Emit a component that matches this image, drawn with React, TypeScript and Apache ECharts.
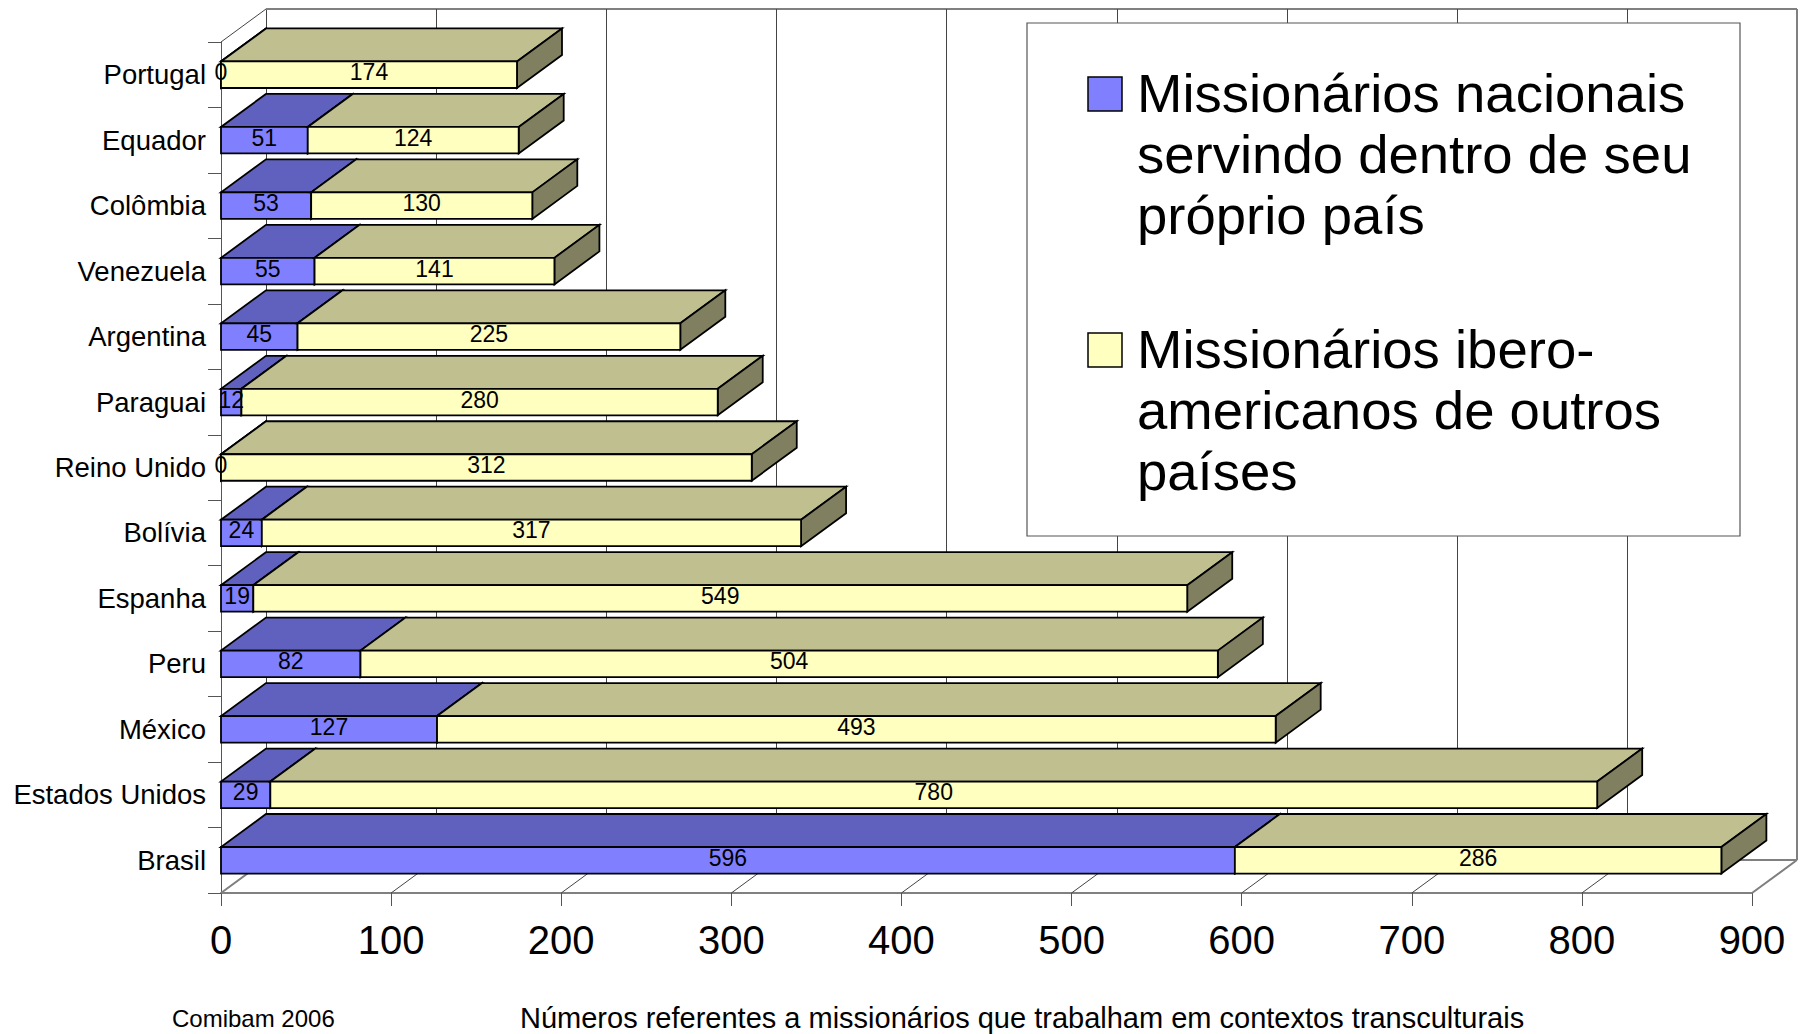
import React, { useEffect, useRef } from "react";
import * as echarts from "echarts";

const categories = ["Portugal", "Equador", "Colômbia", "Venezuela", "Argentina", "Paraguai", "Reino Unido", "Bolívia", "Espanha", "Peru", "México", "Estados Unidos", "Brasil"];
const nationals = [0, 51, 53, 55, 45, 12, 0, 24, 19, 82, 127, 29, 596];
const iberoAmericans = [174, 124, 130, 141, 225, 280, 312, 317, 549, 504, 493, 780, 286];
const xTicks = [0, 100, 200, 300, 400, 500, 600, 700, 800, 900];
const nationalsName = "Missionários nacionais\nservindo dentro de seu\npróprio país";
const iberoName = "Missionários ibero-\namericanos de outros\npaíses";
const sourceText = "Comibam 2006";
const noteText = "Números referentes a missionários que trabalham em contextos transculturais";

const FONT = "'Liberation Sans', Arial, sans-serif";
const DX = 45;
const DY = 33;
const GRID_LEFT = 221;
const GRID_RIGHT = 50;
const GRID_TOP = 42;
const GRID_BOTTOM = 141;

const face = (points: number[][], fill: string) => ({
  type: "polygon",
  shape: { points },
  style: { fill, stroke: "#000", lineWidth: 1.8, lineJoin: "miter" },
});

const barRenderer = (front: string, top: string, side: string) => (_: any, api: any) => {
  const idx = api.value(0);
  const from = api.value(1);
  const to = api.value(2);
  const h = api.size([0, 1])[1] * 0.405;
  const c = api.coord([from, idx]);
  const x0 = c[0];
  const x1 = api.coord([to, idx])[0];
  const y0 = c[1] - h / 2;
  const y1 = c[1] + h / 2;
  return {
    type: "group",
    children: [
      face([[x0, y0], [x1, y0], [x1 + DX, y0 - DY], [x0 + DX, y0 - DY]], top),
      face([[x1, y0], [x1 + DX, y0 - DY], [x1 + DX, y1 - DY], [x1, y1]], side),
      face([[x0, y0], [x1, y0], [x1, y1], [x0, y1]], front),
      {
        type: "text",
        z2: 20,
        style: {
          text: String(to - from),
          x: (x0 + x1) / 2,
          y: c[1] - 2.5,
          align: "center",
          verticalAlign: "middle",
          fontFamily: FONT,
          fontSize: 23,
          fill: "#000",
        },
      },
    ],
  };
};

const wallRenderer = (params: any, api: any) => {
  const v = api.value(0);
  const cs = params.coordSys;
  const x = api.coord([v, 0])[0];
  const floor = cs.y + cs.height;
  const backX = Math.round(x + DX) + 0.5;
  const line = (x1: number, y1: number, x2: number, y2: number, stroke = "#444", lineWidth = 1) => ({
    type: "line",
    shape: { x1, y1, x2, y2 },
    style: { stroke, lineWidth },
  });
  const children: any[] = [
    line(backX, cs.y - DY, backX, floor - DY),
    line(x, floor, x + DX, floor - DY),
  ];
  if (v === xTicks[0]) {
    children.push(
      line(x, cs.y, x + DX, cs.y - DY),
      line(x + DX, cs.y - DY, x + DX + cs.width, cs.y - DY, "#808080", 2),
      line(x + DX, floor - DY, x + DX + cs.width, floor - DY, "#808080", 2),
      line(x, floor, x + DX, floor - DY, "#808080", 2)
    );
  }
  if (v === xTicks[xTicks.length - 1]) {
    children.push(
      line(x + DX, cs.y - DY, x + DX, floor - DY, "#808080", 2),
      line(x, floor, x + DX, floor - DY, "#808080", 2)
    );
  }
  return { type: "group", children };
};

export default function App() {
  const ref = useRef<HTMLDivElement>(null);
  useEffect(() => {
    document.body.style.margin = "0";
    const chart = echarts.init(ref.current!, undefined, { renderer: "svg" });
    const bigText = (text: string, x: number, y: number) => ({
      type: "text",
      x,
      y,
      z: 50,
      style: { text, fontFamily: FONT, fontSize: 54.5, lineHeight: 61, fill: "#000", align: "left", verticalAlign: "top" },
    });
    const swatch = (y: number, fill: string) => ({
      type: "rect",
      z: 50,
      shape: { x: 1088, y, width: 34, height: 34 },
      style: { fill, stroke: "#000", lineWidth: 1.5 },
    });
    chart.setOption({
      animation: false,
      backgroundColor: "#fff",
      grid: { left: GRID_LEFT, right: GRID_RIGHT, top: GRID_TOP, bottom: GRID_BOTTOM, containLabel: false },
      xAxis: {
        type: "value",
        position: "bottom",
        min: 0,
        max: 900,
        interval: 100,
        splitLine: { show: false },
        axisLine: { show: true, lineStyle: { color: "#808080", width: 2 } },
        axisTick: { show: true, length: 13, lineStyle: { color: "#555", width: 1 } },
        axisLabel: { margin: 27, fontFamily: FONT, fontSize: 40, color: "#000", showMinLabel: true, showMaxLabel: true },
      },
      yAxis: {
        type: "category",
        inverse: true,
        data: categories,
        splitLine: { show: false },
        axisLine: { show: true, lineStyle: { color: "#555", width: 1 } },
        axisTick: { show: true, length: 13, lineStyle: { color: "#555", width: 1 } },
        axisLabel: { margin: 15, fontFamily: FONT, fontSize: 27.5, color: "#000", interval: 0, padding: [4, 0, 0, 0] },
      },
      series: [
        {
          type: "custom",
          name: "grade",
          z: 1,
          silent: true,
          clip: false,
          renderItem: wallRenderer,
          data: xTicks.map((v) => [v]),
          encode: { x: 0 },
        },
        {
          type: "custom",
          name: nationalsName,
          z: 3,
          silent: true,
          clip: false,
          renderItem: barRenderer("#8080FF", "#6060BF", "#404080"),
          data: categories.map((_, i) => [i, 0, nationals[i]]),
          encode: { y: 0, x: [1, 2] },
        },
        {
          type: "custom",
          name: iberoName,
          z: 3,
          silent: true,
          clip: false,
          renderItem: barRenderer("#FFFFC0", "#BFBF90", "#808060"),
          data: categories.map((_, i) => [i, nationals[i], nationals[i] + iberoAmericans[i]]),
          encode: { y: 0, x: [1, 2] },
        },
      ],
      graphic: [
        {
          type: "rect",
          z: 49,
          shape: { x: 1027, y: 23, width: 713, height: 513 },
          style: { fill: "#fff", stroke: "#555", lineWidth: 1.2 },
        },
        swatch(77, "#8080FF"),
        swatch(333, "#FFFFC0"),
        bigText(nationalsName, 1137, 63),
        bigText(iberoName, 1137, 319),
        {
          type: "text",
          x: 172,
          y: 1018,
          style: { text: sourceText, fontFamily: FONT, fontSize: 24, fill: "#000", align: "left", verticalAlign: "middle" },
        },
        {
          type: "text",
          x: 520,
          y: 1018,
          style: { text: noteText, fontFamily: FONT, fontSize: 29, fill: "#000", align: "left", verticalAlign: "middle" },
        },
      ],
    });
    return () => chart.dispose();
  }, []);
  return <div ref={ref} style={{ position: "absolute", left: 0, top: 0, width: 1802, height: 1034 }} />;
}
